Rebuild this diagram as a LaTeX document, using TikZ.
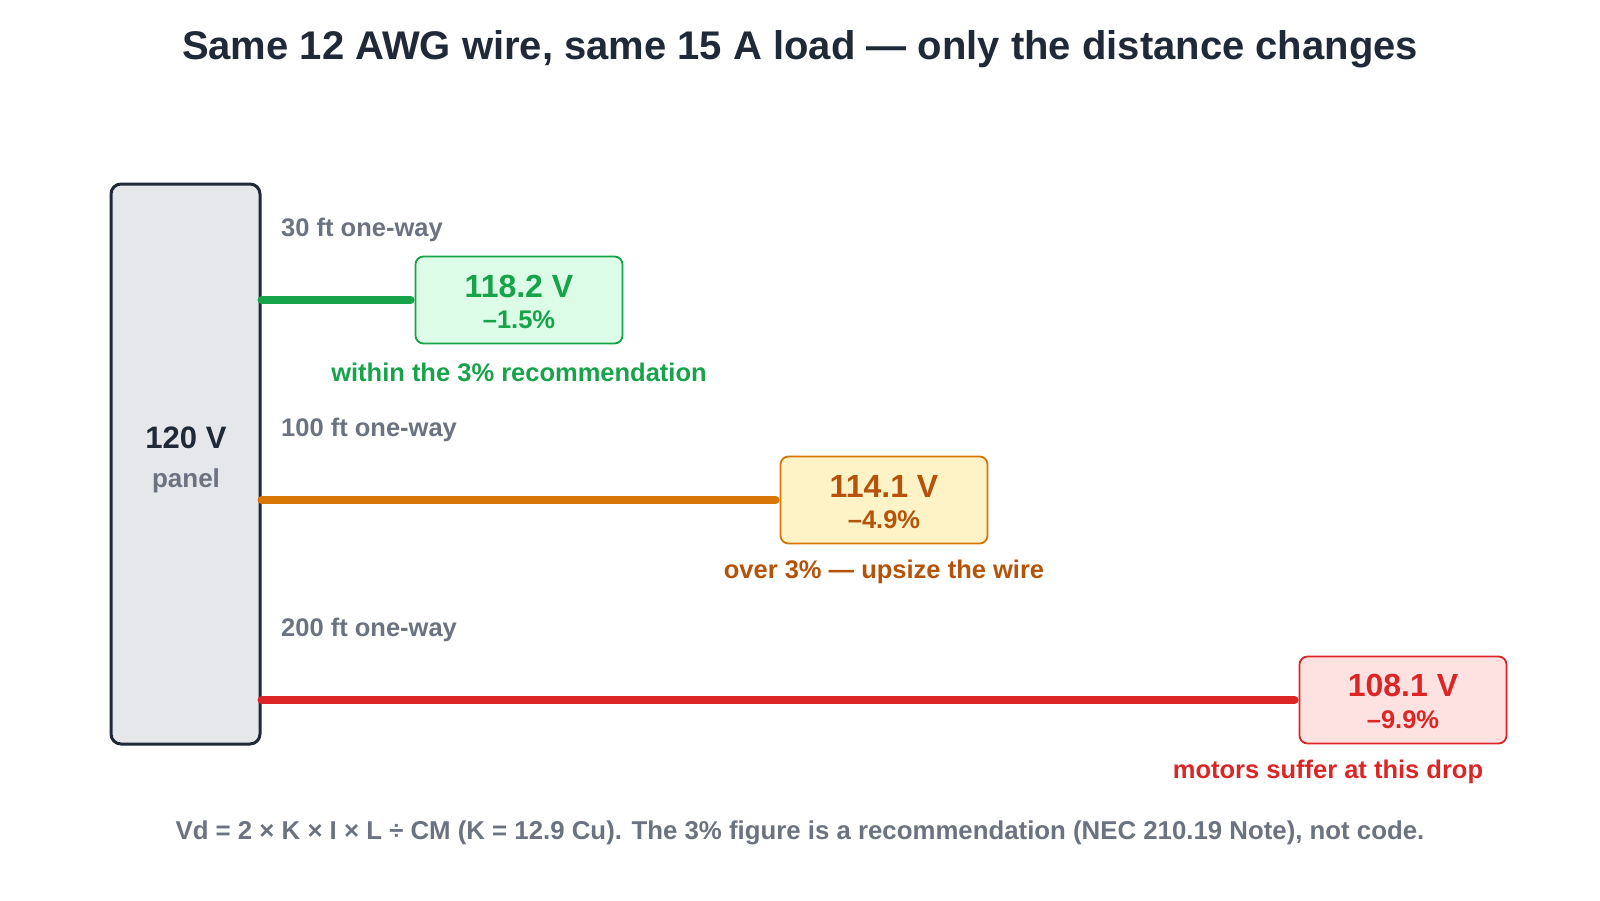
\documentclass[tikz,border=0pt]{standalone}
\usepackage{fontspec}
\setmainfont{Liberation Sans}
\definecolor{navy}{HTML}{1F2937}
\definecolor{panelfill}{HTML}{E5E7EB}
\definecolor{grayt}{HTML}{6B7280}
\definecolor{gline}{HTML}{16A34A}
\definecolor{gfill}{HTML}{DCFCE7}
\definecolor{oline}{HTML}{D97706}
\definecolor{ofill}{HTML}{FEF3C7}
\definecolor{otext}{HTML}{B45309}
\definecolor{rline}{HTML}{DC2626}
\definecolor{rfill}{HTML}{FEE2E2}
\tikzset{
  fs/.style={font=\fontsize{#1}{#1}\selectfont\bfseries},
  resbox/.style={draw=#1, line width=1.8pt, rounded corners=8pt, minimum width=207pt, minimum height=87pt},
  wire/.style={draw=#1, line width=8pt, line cap=round, shorten >=4pt},
  distlbl/.style={fs=25.5, text=grayt, anchor=west, inner sep=0pt},
  voltlbl/.style={fs=32, inner sep=0pt},
  pctlbl/.style={fs=25.5, inner sep=0pt},
  notelbl/.style={fs=25.5, inner sep=0pt},
}
\begin{document}
\begin{tikzpicture}[x=1pt,y=-1pt]
\useasboundingbox (0,0) rectangle (1600,900);
\node[fs=40, text=navy] (title) at (800,49) {Same 12 AWG wire, same 15 A load — only the distance changes};
% panel
\node[draw=navy, fill=panelfill, line width=3pt, rounded corners=10pt, minimum width=149pt, minimum height=560pt] (panel) at (185.5,464) {};
\node[fs=31, text=navy] (pv) at (186,438) {120 V};
\node[fs=26, text=grayt] (pl) at (186,481) {panel};
% row 1
\node[resbox=gline, fill=gfill] (gbox) at (519,300) {};
\node[voltlbl, text=gline] (gv) at (519,286) {118.2 V};
\node[pctlbl, text=gline] (gp) at (519,320) {–1.5\%};
\node[distlbl] (gd) at (281,230) {30 ft one-way};
\node[notelbl, text=gline] (gn) at (519,372) {within the 3\% recommendation};
\draw[wire=gline] (gbox.west -| panel.east) -- (gbox.west);
% row 2
\node[resbox=oline, fill=ofill] (obox) at (884,500) {};
\node[voltlbl, text=otext] (ov) at (884,486) {114.1 V};
\node[pctlbl, text=otext] (op) at (884,520) {–4.9\%};
\node[distlbl] (od) at (281,430) {100 ft one-way};
\node[notelbl, text=otext] (on) at (884,572) {over 3\% — upsize the wire};
\draw[wire=oline] (obox.west -| panel.east) -- (obox.west);
% row 3
\node[resbox=rline, fill=rfill] (rbox) at (1403,700) {};
\node[voltlbl, text=rline] (rv) at (1403,685) {108.1 V};
\node[pctlbl, text=rline] (rp) at (1403,720) {–9.9\%};
\node[distlbl] (rd) at (281,630) {200 ft one-way};
\node[notelbl, text=rline] (rn) at (1328,772) {motors suffer at this drop};
\draw[wire=rline] (rbox.west -| panel.east) -- (rbox.west);
% footer
\node[fs=25.8, text=grayt] (foot) at (800,833) {Vd = 2 × K × I × L ÷ CM (K = 12.9 Cu). The 3\% figure is a recommendation (NEC 210.19 Note), not code.};
\end{tikzpicture}
\end{document}
